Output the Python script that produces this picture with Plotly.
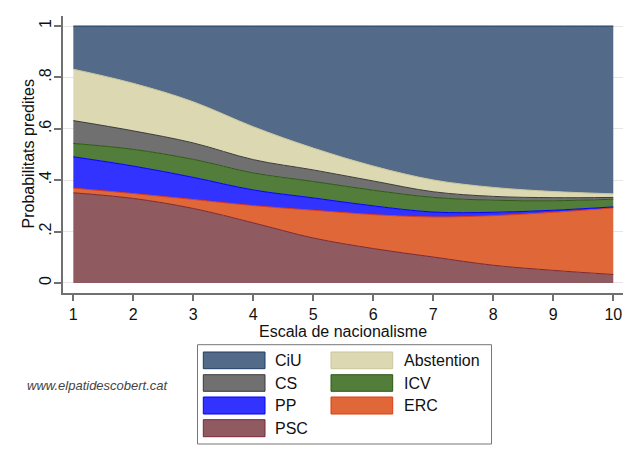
import plotly.graph_objects as go

# ---- data ----
scale = [1, 2, 3, 4, 5, 6, 7, 8, 9, 10]
psc  = [0.351, 0.329, 0.290, 0.234, 0.175, 0.134, 0.101, 0.069, 0.049, 0.033]
erc  = [0.018, 0.019, 0.035, 0.067, 0.108, 0.132, 0.156, 0.193, 0.226, 0.259]
pp   = [0.122, 0.107, 0.086, 0.061, 0.048, 0.034, 0.019, 0.013, 0.008, 0.004]
icv  = [0.052, 0.065, 0.070, 0.066, 0.064, 0.061, 0.057, 0.047, 0.037, 0.030]
cs   = [0.089, 0.072, 0.064, 0.052, 0.045, 0.036, 0.022, 0.015, 0.012, 0.007]
abst = [0.200, 0.185, 0.160, 0.128, 0.085, 0.058, 0.046, 0.035, 0.024, 0.014]
ciu  = [0.168, 0.223, 0.295, 0.392, 0.475, 0.545, 0.599, 0.628, 0.644, 0.653]

y_ticks = [0, 0.2, 0.4, 0.6, 0.8, 1]
y_ticklabels = ["0", ".2", ".4", ".6", ".8", "1"]

# stacking order bottom -> top
series = [
    ("PSC", psc, "#8f5a60", "#7a2833"),
    ("ERC", erc, "#e06838", "#e03a10"),
    ("PP", pp, "#3333ff", "#0000ff"),
    ("ICV", icv, "#527d3a", "#2d5a12"),
    ("CS", cs, "#707070", "#3a3a3a"),
    ("Abstention", abst, "#dbd8b2", "#c9c59c"),
    ("CiU", ciu, "#536a88", "#1f3d63"),
]
legend_order = ["CiU", "Abstention", "CS", "ICV", "PP", "ERC", "PSC"]

FONT = "Liberation Sans, Arial, Helvetica, sans-serif"
W, H = 640, 465
ML, MR, MT, MB = 63, 17, 16, 172

fig = go.Figure()
for name, vals, fill, line in series:
    fig.add_trace(go.Scatter(
        x=scale, y=vals, name=name, stackgroup="one", mode="lines",
        line=dict(color=line, width=1, shape="spline", smoothing=1.0),
        fillcolor=fill, showlegend=False, hoverinfo="skip",
    ))

def px(xp):
    return (xp - ML) / (W - ML - MR)

def py(yp):
    return (H - MB - yp) / (H - MT - MB)

shapes = []
annotations = []

# legend frame
shapes.append(dict(type="rect", xref="paper", yref="paper",
                   x0=px(197.5), x1=px(491.5), y0=py(444), y1=py(344.7),
                   line=dict(color="#777777", width=1), fillcolor="white"))
col_sw = [(203.3, 265.0), (331.0, 392.7)]
col_lab = [273.3, 402.3]
rows = [(352.0, 368.7), (374.7, 391.3), (397.0, 414.0), (419.7, 436.7)]
lookup = {s[0]: s for s in series}
for i, nm in enumerate(legend_order):
    r, c = divmod(i, 2)
    _, _, fill, line = lookup[nm]
    x0, x1 = col_sw[c]
    y0, y1 = rows[r]
    shapes.append(dict(type="rect", xref="paper", yref="paper",
                       x0=px(x0), x1=px(x1), y0=py(y1), y1=py(y0),
                       line=dict(color=line, width=1), fillcolor=fill))
    annotations.append(dict(xref="paper", yref="paper", x=px(col_lab[c]),
                            y=py((y0 + y1) / 2), text=nm, showarrow=False,
                            xanchor="left", yanchor="middle",
                            font=dict(family=FONT, size=16, color="#111111")))

# y-axis title
annotations.append(dict(xref="paper", yref="paper", x=px(28), y=0.5,
                        text="Probabilitats predites", showarrow=False,
                        textangle=-90, xanchor="center", yanchor="middle",
                        font=dict(family=FONT, size=16, color="#111111")))

# watermark
annotations.append(dict(xref="paper", yref="paper", x=px(98), y=py(385),
                        text="<i>www.elpatidescobert.cat</i>", showarrow=False,
                        xanchor="center", yanchor="middle",
                        font=dict(family=FONT, size=13, color="#444444")))

fig.update_layout(
    width=W, height=H,
    margin=dict(l=ML, r=MR, t=MT, b=MB, pad=0),
    paper_bgcolor="white", plot_bgcolor="white",
    font=dict(family=FONT, size=16, color="#111111"),
    shapes=shapes, annotations=annotations,
    showlegend=False,
)
fig.update_xaxes(
    range=[0.828, 10.162], tickvals=scale, ticktext=[str(v) for v in scale],
    showline=True, linecolor="#707070", linewidth=1.5,
    ticks="outside", ticklen=6, tickcolor="#707070", tickwidth=1.5,
    showgrid=False, zeroline=False,
    tickfont=dict(family=FONT, size=16, color="#111111"),
    title=dict(text="Escala de nacionalisme", standoff=2,
               font=dict(family=FONT, size=16, color="#111111")),
)
fig.update_yaxes(
    range=[-0.039, 1.039], tickvals=y_ticks, ticktext=y_ticklabels,
    tickangle=-90, ticklabelstandoff=-3,
    showline=True, linecolor="#707070", linewidth=1.5,
    ticks="outside", ticklen=7, tickcolor="#707070", tickwidth=1.5,
    showgrid=True, gridcolor="#e6e6e6", gridwidth=1, zeroline=False,
    tickfont=dict(family=FONT, size=16, color="#111111"),
)

fig.write_html("out.html")
